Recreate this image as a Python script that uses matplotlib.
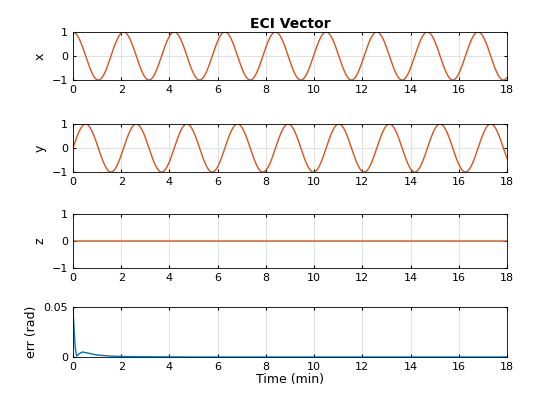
import numpy as np
import matplotlib.pyplot as plt

# orbit period (min)
period_min = 2.1
t_end = 18.0

# attitude error samples (min, rad)
err_t = [0.0, 0.03, 0.06, 0.1, 0.15, 0.2, 0.3, 0.4, 0.5, 0.7, 1.0, 1.5, 2.0, 3.0, 5.0, 18.0]
err_v = [0.045, 0.035, 0.02, 0.008, 0.001, 0.002, 0.004, 0.005, 0.0045, 0.0035, 0.002, 0.001, 0.0005, 0.0002, 0.0, 0.0]

orange = '#D95319'
blue = '#0072BD'

t = np.linspace(0, t_end, 2000)
w = 2 * np.pi / period_min
series = [('x', np.cos(w * t)), ('y', np.sin(w * t)), ('z', np.zeros_like(t))]

plt.rcParams['font.family'] = 'DejaVu Sans'
fig = plt.figure(figsize=(5.6, 4.2), dpi=100)

boxes = [(32, 80), (124, 172), (214, 268), (307, 357)]
left, right = 73 / 560, 507 / 560


def make_ax(top, bot):
    ax = fig.add_axes([left, 1 - bot / 420, right - left, (bot - top) / 420])
    ax.set_xlim(0, 18)
    ax.set_xticks(range(0, 19, 2))
    ax.grid(True, color='#dddddd', linewidth=0.6)
    ax.tick_params(labelsize=8, length=2, direction='in', top=True, right=True)
    for s in ax.spines.values():
        s.set_linewidth(0.6)
    return ax


for (name, vals), (top, bot) in zip(series, boxes[:3]):
    ax = make_ax(top, bot)
    ax.plot(t, vals, color=orange, linewidth=1)
    ax.set_ylim(-1, 1)
    ax.set_yticks([-1, 0, 1])
    ax.set_ylabel(name, fontsize=9)
    if name == 'x':
        ax.set_title('ECI Vector', fontsize=10, fontweight='bold', pad=3)

ax = make_ax(*boxes[3])
ax.plot(err_t, err_v, color=blue, linewidth=1)
ax.set_ylim(0, 0.05)
ax.set_yticks([0, 0.05])
ax.set_yticklabels(['0', '0.05'])
ax.set_ylabel('err (rad)', fontsize=9)
ax.set_xlabel('Time (min)', fontsize=9, labelpad=1)

fig.savefig('out.png', dpi=100)
